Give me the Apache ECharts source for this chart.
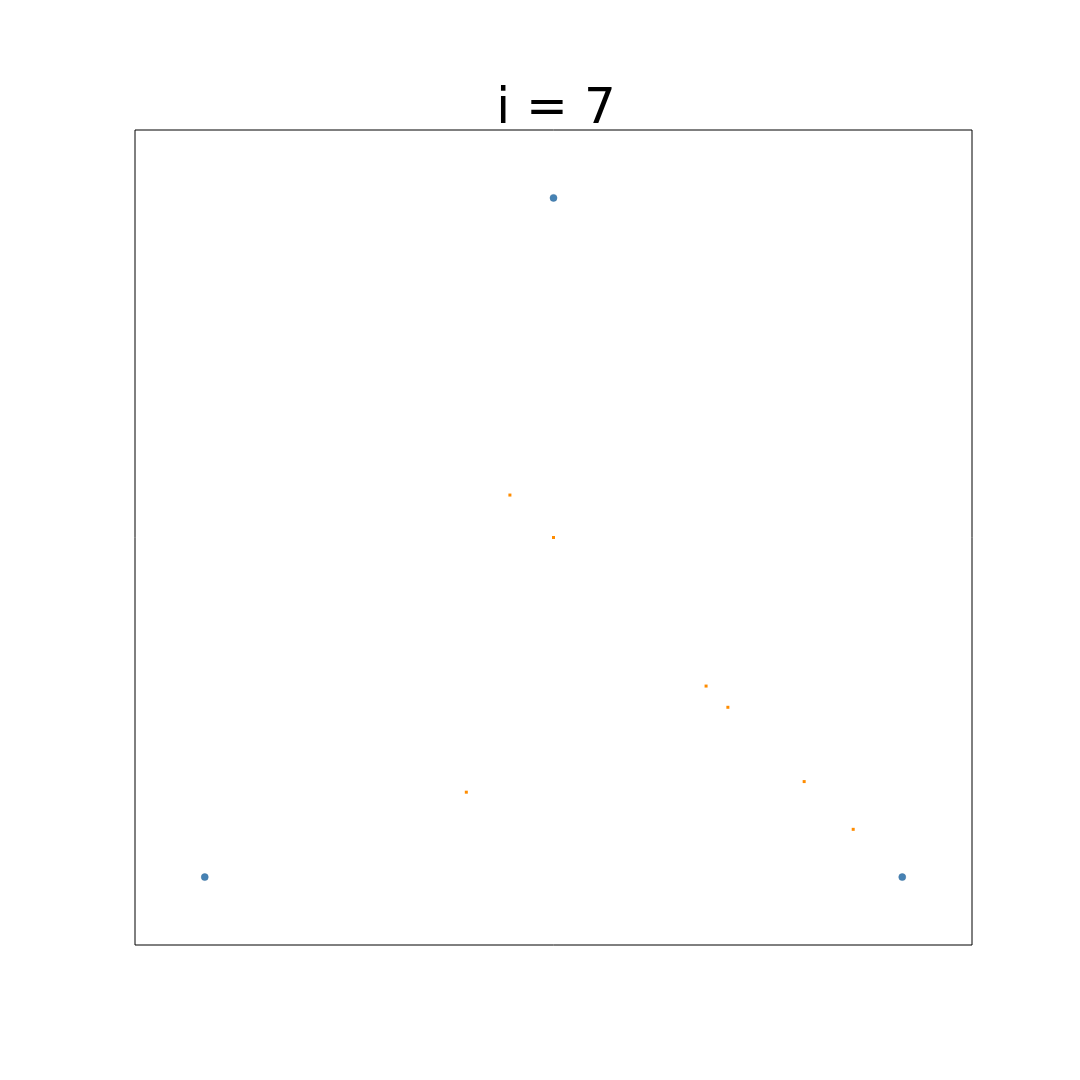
<!DOCTYPE html>
<html><head><meta charset="utf-8">
<script src="https://cdn.jsdelivr.net/npm/echarts@6/dist/echarts.min.js"></script>
<style>html,body{margin:0;padding:0;background:#fff}#c{width:1080px;height:1080px}</style>
</head><body><div id="c"></div>
<script>
var titleText = 'i = 7';
var vertices = [[0, 0], [1, 0], [0.5, 1]];
var pointsX = [0.5, 0.75, 0.375, 0.4375, 0.71875, 0.859375, 0.9296875];
var pointsY = [0.5, 0.25, 0.125, 0.5625, 0.28125, 0.140625, 0.0703125];
var points = pointsX.map(function (x, i) { return [x, pointsY[i]]; });

var chart = echarts.init(document.getElementById('c'), null, {renderer: 'canvas'});
chart.setOption({
  animation: false,
  backgroundColor: '#fff',
  title: {
    text: titleText, left: 551, top: 80, textAlign: 'center',
    textStyle: {fontFamily: 'DejaVu Sans', fontSize: 50, fontWeight: 'normal', color: '#000'}
  },
  grid: {left: 135, right: 108, top: 130, bottom: 135, show: true, borderColor: '#000', borderWidth: 1, backgroundColor: 'transparent'},
  xAxis: {type: 'value', min: -0.1, max: 1.1, show: false},
  yAxis: {type: 'value', min: -0.1, max: 1.1, show: false},
  series: [
    {type: 'scatter', data: points, symbol: 'rect', symbolSize: 3, itemStyle: {color: '#ff8c00', opacity: 1}, z: 3},
    {type: 'scatter', data: vertices, symbol: 'circle', symbolSize: 7, itemStyle: {color: '#4682b4', opacity: 1, borderColor: '#3d72a0', borderWidth: 0.5}, z: 4}
  ]
});
</script></body></html>
